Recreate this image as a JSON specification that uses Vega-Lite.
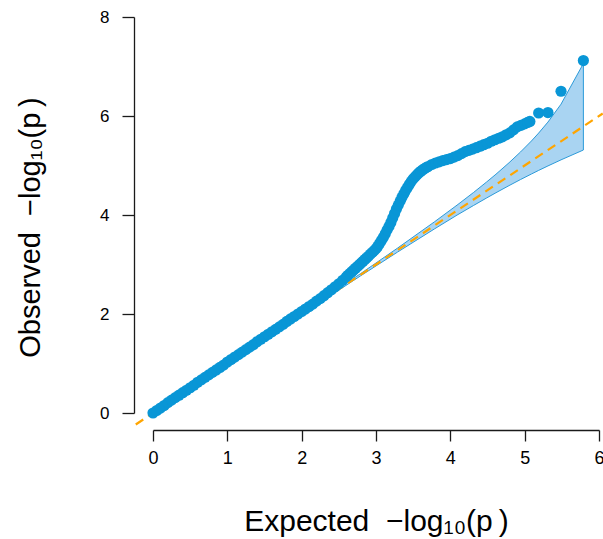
{
  "$schema": "https://vega.github.io/schema/vega-lite/v6.json",
  "width": 446,
  "height": 396,
  "autosize": "none",
  "padding": {"left": 153, "top": 17, "right": 4, "bottom": 126},
  "background": "white",
  "config": {
    "view": {"stroke": null},
    "font": "Liberation Sans",
    "axis": {
      "grid": false,
      "domainColor": "#1a1a1a",
      "tickColor": "#1a1a1a",
      "domainWidth": 1.3,
      "tickWidth": 1.3,
      "labelColor": "#000000",
      "titleColor": "#000000",
      "labelFont": "Liberation Sans",
      "titleFont": "Liberation Sans",
      "titleFontWeight": "normal",
      "labelFlush": false,
      "labelOverlap": false,
      "format": "d"
    },
    "axisX": {"offset": 17, "tickSize": 11, "labelPadding": 8, "titlePadding": 39, "labelFontSize": 18, "titleFontSize": 30},
    "axisY": {"offset": 19, "tickSize": 12, "labelPadding": 13, "labelAngle": 0, "titlePadding": 54, "titleY": 210, "labelFontSize": 17, "titleFontSize": 29}
  },
  "datasets": {
    "band": [
      {"ex": 0, "lo": 0, "hi": 0},
      {"ex": 0.79, "lo": 0.788, "hi": 0.792},
      {"ex": 1.79, "lo": 1.783, "hi": 1.797},
      {"ex": 2.79, "lo": 2.768, "hi": 2.813},
      {"ex": 3.29, "lo": 3.251, "hi": 3.331},
      {"ex": 3.79, "lo": 3.722, "hi": 3.866},
      {"ex": 4.09, "lo": 3.998, "hi": 4.199},
      {"ex": 4.313, "lo": 4.193, "hi": 4.456},
      {"ex": 4.489, "lo": 4.345, "hi": 4.668},
      {"ex": 4.614, "lo": 4.45, "hi": 4.824},
      {"ex": 4.79, "lo": 4.594, "hi": 5.056},
      {"ex": 4.945, "lo": 4.717, "hi": 5.274},
      {"ex": 5.091, "lo": 4.828, "hi": 5.495},
      {"ex": 5.188, "lo": 4.901, "hi": 5.655},
      {"ex": 5.313, "lo": 4.991, "hi": 5.877},
      {"ex": 5.489, "lo": 5.114, "hi": 6.239},
      {"ex": 5.79, "lo": 5.313, "hi": 7.06}
    ],
    "ref": [
      {"ex": -0.232, "ob": -0.232},
      {"ex": 6.05, "ob": 6.05}
    ],
    "obs": [
      {"ex": 0.00, "ob": 0.00}, {"ex": 0.05, "ob": 0.05}, {"ex": 0.10, "ob": 0.10}, {"ex": 0.15, "ob": 0.15},
      {"ex": 0.20, "ob": 0.21}, {"ex": 0.25, "ob": 0.26}, {"ex": 0.30, "ob": 0.31}, {"ex": 0.35, "ob": 0.36},
      {"ex": 0.40, "ob": 0.41}, {"ex": 0.45, "ob": 0.46}, {"ex": 0.50, "ob": 0.51}, {"ex": 0.55, "ob": 0.56},
      {"ex": 0.60, "ob": 0.62}, {"ex": 0.65, "ob": 0.67}, {"ex": 0.70, "ob": 0.72}, {"ex": 0.75, "ob": 0.77},
      {"ex": 0.80, "ob": 0.82}, {"ex": 0.85, "ob": 0.87}, {"ex": 0.90, "ob": 0.92}, {"ex": 0.95, "ob": 0.97},
      {"ex": 1.00, "ob": 1.03}, {"ex": 1.05, "ob": 1.08}, {"ex": 1.10, "ob": 1.13}, {"ex": 1.15, "ob": 1.18},
      {"ex": 1.20, "ob": 1.23}, {"ex": 1.25, "ob": 1.28}, {"ex": 1.30, "ob": 1.33}, {"ex": 1.35, "ob": 1.38},
      {"ex": 1.40, "ob": 1.44}, {"ex": 1.45, "ob": 1.49}, {"ex": 1.50, "ob": 1.54}, {"ex": 1.55, "ob": 1.59},
      {"ex": 1.60, "ob": 1.64}, {"ex": 1.65, "ob": 1.69}, {"ex": 1.70, "ob": 1.74}, {"ex": 1.75, "ob": 1.79},
      {"ex": 1.80, "ob": 1.85}, {"ex": 1.85, "ob": 1.90}, {"ex": 1.90, "ob": 1.95}, {"ex": 1.95, "ob": 2.00},
      {"ex": 2.00, "ob": 2.05}, {"ex": 2.05, "ob": 2.10}, {"ex": 2.10, "ob": 2.15}, {"ex": 2.15, "ob": 2.20},
      {"ex": 2.20, "ob": 2.26}, {"ex": 2.25, "ob": 2.31}, {"ex": 2.30, "ob": 2.37}, {"ex": 2.35, "ob": 2.43},
      {"ex": 2.40, "ob": 2.49}, {"ex": 2.45, "ob": 2.55}, {"ex": 2.50, "ob": 2.61}, {"ex": 2.55, "ob": 2.68},
      {"ex": 2.60, "ob": 2.75}, {"ex": 2.625, "ob": 2.785}, {"ex": 2.65, "ob": 2.82}, {"ex": 2.675, "ob": 2.855},
      {"ex": 2.70, "ob": 2.89}, {"ex": 2.725, "ob": 2.925}, {"ex": 2.75, "ob": 2.96}, {"ex": 2.775, "ob": 2.995},
      {"ex": 2.80, "ob": 3.03}, {"ex": 2.825, "ob": 3.065}, {"ex": 2.85, "ob": 3.10}, {"ex": 2.875, "ob": 3.135},
      {"ex": 2.90, "ob": 3.17}, {"ex": 2.925, "ob": 3.21}, {"ex": 2.95, "ob": 3.245}, {"ex": 2.975, "ob": 3.28},
      {"ex": 3.00, "ob": 3.32}, {"ex": 3.025, "ob": 3.37}, {"ex": 3.05, "ob": 3.43}, {"ex": 3.075, "ob": 3.49},
      {"ex": 3.10, "ob": 3.55}, {"ex": 3.125, "ob": 3.62}, {"ex": 3.15, "ob": 3.70}, {"ex": 3.175, "ob": 3.77},
      {"ex": 3.20, "ob": 3.85}, {"ex": 3.225, "ob": 3.94}, {"ex": 3.25, "ob": 4.03}, {"ex": 3.275, "ob": 4.12},
      {"ex": 3.30, "ob": 4.20}, {"ex": 3.325, "ob": 4.28}, {"ex": 3.35, "ob": 4.36}, {"ex": 3.375, "ob": 4.43},
      {"ex": 3.40, "ob": 4.50}, {"ex": 3.425, "ob": 4.56}, {"ex": 3.45, "ob": 4.62}, {"ex": 3.475, "ob": 4.68},
      {"ex": 3.50, "ob": 4.73}, {"ex": 3.525, "ob": 4.77}, {"ex": 3.55, "ob": 4.81}, {"ex": 3.575, "ob": 4.85},
      {"ex": 3.60, "ob": 4.88}, {"ex": 3.625, "ob": 4.91}, {"ex": 3.65, "ob": 4.935}, {"ex": 3.675, "ob": 4.96},
      {"ex": 3.70, "ob": 4.98}, {"ex": 3.75, "ob": 5.02}, {"ex": 3.80, "ob": 5.05}, {"ex": 3.85, "ob": 5.075},
      {"ex": 3.90, "ob": 5.10}, {"ex": 3.95, "ob": 5.12}, {"ex": 4.00, "ob": 5.14}, {"ex": 4.05, "ob": 5.17},
      {"ex": 4.10, "ob": 5.20}, {"ex": 4.15, "ob": 5.24}, {"ex": 4.20, "ob": 5.28}, {"ex": 4.25, "ob": 5.305},
      {"ex": 4.30, "ob": 5.33}, {"ex": 4.35, "ob": 5.36}, {"ex": 4.40, "ob": 5.39}, {"ex": 4.45, "ob": 5.42},
      {"ex": 4.50, "ob": 5.45}, {"ex": 4.55, "ob": 5.49}, {"ex": 4.60, "ob": 5.52}, {"ex": 4.65, "ob": 5.55},
      {"ex": 4.70, "ob": 5.58}, {"ex": 4.75, "ob": 5.62}, {"ex": 4.80, "ob": 5.66}, {"ex": 4.85, "ob": 5.72},
      {"ex": 4.90, "ob": 5.78}, {"ex": 4.95, "ob": 5.81}, {"ex": 5.00, "ob": 5.84}, {"ex": 5.04, "ob": 5.87},
      {"ex": 5.07, "ob": 5.89},
      {"ex": 5.188, "ob": 6.06}, {"ex": 5.313, "ob": 6.07}, {"ex": 5.489, "ob": 6.50}, {"ex": 5.79, "ob": 7.12}
    ]
  },
  "layer": [
    {
      "data": {"name": "band"},
      "mark": {"type": "area", "fill": "#A9D4F2", "stroke": "#2B9AD9", "strokeWidth": 1, "fillOpacity": 1},
      "encoding": {
        "x": {"field": "ex", "type": "quantitative", "title": "Expected\u00a0\u00a0−log₁₀(p\u2009)",
              "scale": {"domain": [0, 6], "nice": false, "zero": false},
              "axis": {"values": [0, 1, 2, 3, 4, 5, 6]}},
        "y": {"field": "lo", "type": "quantitative", "title": "Observed\u00a0\u00a0−log₁₀(p\u2009)",
              "scale": {"domain": [0, 8], "nice": false, "zero": false},
              "axis": {"values": [0, 2, 4, 6, 8]}},
        "y2": {"field": "hi"}
      }
    },
    {
      "data": {"name": "ref"},
      "mark": {"type": "line", "color": "#FFA500", "strokeDash": [9, 6], "strokeWidth": 2.2},
      "encoding": {
        "x": {"field": "ex", "type": "quantitative", "title": "Expected\u00a0\u00a0−log₁₀(p\u2009)"},
        "y": {"field": "ob", "type": "quantitative", "title": "Observed\u00a0\u00a0−log₁₀(p\u2009)"}
      }
    },
    {
      "data": {"name": "obs"},
      "mark": {"type": "circle", "size": 125, "color": "#0996D6", "opacity": 1},
      "encoding": {
        "x": {"field": "ex", "type": "quantitative", "title": "Expected\u00a0\u00a0−log₁₀(p\u2009)"},
        "y": {"field": "ob", "type": "quantitative", "title": "Observed\u00a0\u00a0−log₁₀(p\u2009)"}
      }
    }
  ]
}
